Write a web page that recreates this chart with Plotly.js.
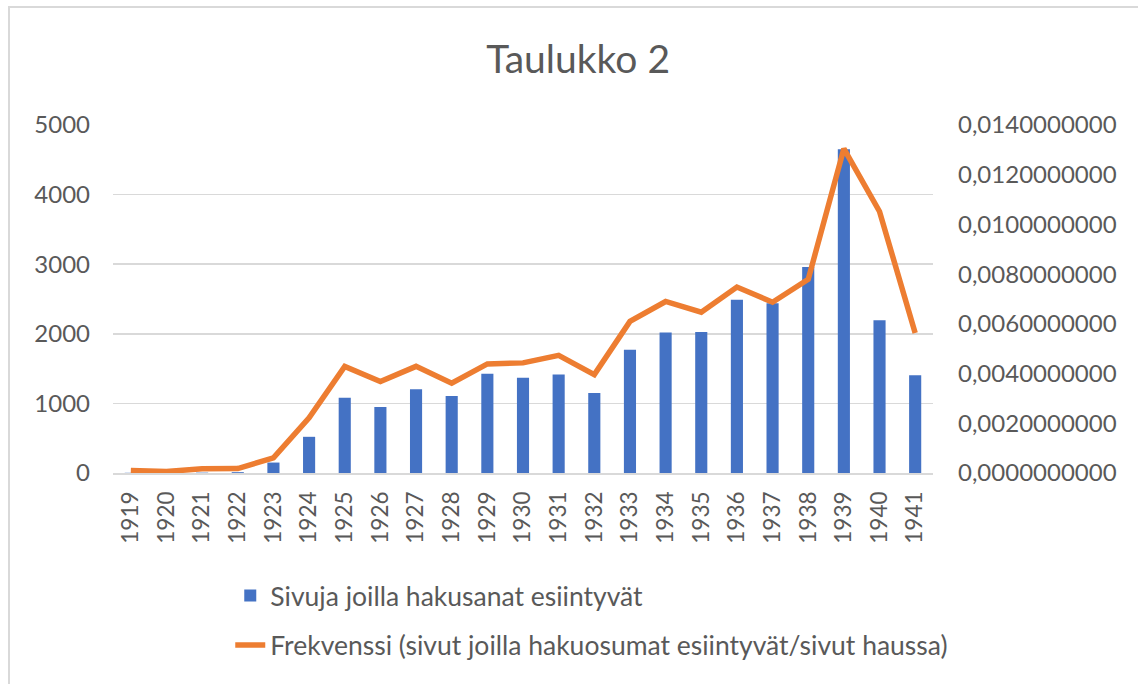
<!DOCTYPE html>
<html>
<head>
<meta charset="utf-8">
<script src="https://cdn.plot.ly/plotly-3.0.1.min.js"></script>
<style>
html,body{margin:0;padding:0;background:#fff;}
#wrap{position:absolute;left:0;top:0;width:1138px;height:684px;}
#frame{position:absolute;left:8px;top:6px;width:1140px;height:690px;border-left:2px solid #d9d9d9;border-top:2px solid #d9d9d9;pointer-events:none;}
#chart{position:absolute;left:0;top:0;width:1138px;height:684px;}
</style>
</head>
<body>
<div id="wrap"><div id="chart"></div><div id="frame"></div></div>
<script>
const years = ["1919","1920","1921","1922","1923","1924","1925","1926","1927","1928","1929","1930","1931","1932","1933","1934","1935","1936","1937","1938","1939","1940","1941"];
const pages = [3,2,5,12,150,520,1080,950,1205,1105,1425,1370,1415,1150,1770,2020,2025,2490,2440,2960,4650,2195,1405];
const frequency = [0.00010,0.00006,0.00017,0.00018,0.00061,0.00222,0.00429,0.00368,0.00429,0.00361,0.00439,0.00443,0.00473,0.00396,0.00610,0.00690,0.00647,0.00748,0.00687,0.00779,0.01305,0.01052,0.00563];
const barName = "Sivuja joilla hakusanat esiintyvät";
const lineName = "Frekvenssi (sivut joilla hakuosumat esiintyvät/sivut haussa)";

const font = "Lato, 'Open Sans', sans-serif";
const grey = "#595959";

const traces = [
  {type:"bar", x:years, y:pages, name:barName, marker:{color:"#4472C4"}, legendgroup:"a", yaxis:"y"},
  {type:"scatter", mode:"lines", x:years, y:frequency, name:lineName, line:{color:"#ED7D31", width:5.5}, legendgroup:"b", yaxis:"y2"}
];

const layout = {
  width:1138, height:684,
  margin:{l:113, r:205, t:125, b:211, autoexpand:false},
  paper_bgcolor:"#fff", plot_bgcolor:"#fff",
  font:{family:font, color:grey, size:24},
  separators:", ",
  title:{text:"Taulukko 2", font:{family:font, size:39, color:grey}, x:0.508, xref:"container", y:0.913, yref:"container", xanchor:"center", yanchor:"middle"},
  bargap:0.66,
  xaxis:{type:"category", tickangle:-90, showline:true, linecolor:"#d9d9d9", linewidth:1.5, ticks:"", showgrid:false, tickfont:{size:22.5, color:grey}, ticklabelstandoff:8, automargin:false},
  yaxis:{range:[0,5000], dtick:1000, tickformat:"d", showgrid:true, gridcolor:"#d9d9d9", gridwidth:1.5, zeroline:false, ticks:"", tickfont:{size:24, color:grey}, ticklabelstandoff:22, automargin:false},
  yaxis2:{range:[0,0.014], dtick:0.002, tickformat:".10f", overlaying:"y", side:"right", showgrid:false, zeroline:false, ticks:"", tickfont:{size:24, color:grey}, ticklabelstandoff:24, automargin:false},
  showlegend:true,
  legend:{orientation:"v", x:0.143, xanchor:"left", y:-0.284, yanchor:"top", tracegroupgap:12, font:{size:26.5, color:grey}, bgcolor:"rgba(0,0,0,0)"}
};

Plotly.newPlot("chart", traces, layout, {staticPlot:true, displayModeBar:false});
</script>
</body>
</html>
